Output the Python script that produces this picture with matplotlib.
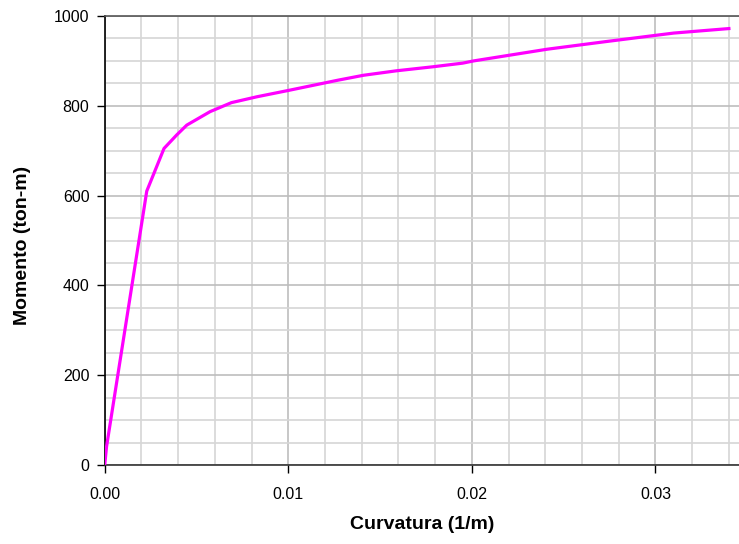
import numpy as np
import matplotlib.pyplot as plt
from matplotlib.ticker import MultipleLocator, FormatStrFormatter

plt.rcParams['font.family'] = ['Liberation Sans', 'DejaVu Sans']

# moment-curvature curve
curvatura = [0, 0.0001, 0.00229, 0.00323, 0.00392, 0.00447, 0.00574, 0.0069,
             0.00828, 0.0101, 0.0127, 0.0141, 0.0159, 0.0179, 0.0195, 0.0201,
             0.0221, 0.0241, 0.0273, 0.0310, 0.0340]
momento = [0, 41, 610, 705, 735, 757, 787, 807, 820, 835, 857, 868, 878, 887,
           895, 900, 913, 926, 943, 962, 972]

fig = plt.figure(figsize=(7.39, 5.44), dpi=100)
ax = fig.add_axes([0.1417, 0.1452, 0.8583, 0.8254])

ax.plot(curvatura, momento, color='#ff00ff', lw=2.3, zorder=3)

ax.set_xlim(0, 0.03455)
ax.set_ylim(0, 1000)
ax.xaxis.set_major_locator(MultipleLocator(0.01))
ax.xaxis.set_minor_locator(MultipleLocator(0.002))
ax.yaxis.set_major_locator(MultipleLocator(200))
ax.yaxis.set_minor_locator(MultipleLocator(50))
ax.xaxis.set_major_formatter(FormatStrFormatter('%.2f'))

ax.grid(which='major', color='#bdbdbd', lw=1.2)
ax.grid(which='minor', color='#d6d6d6', lw=1.2)
ax.set_axisbelow(True)
ax.tick_params(which='minor', length=0)
ax.tick_params(which='major', length=6, width=1, labelsize=11.5, color='black')
ax.tick_params(axis='x', pad=10)
ax.tick_params(axis='y', pad=5)

ax.spines['right'].set_visible(False)
ax.spines['top'].set_color('#555555')
ax.spines['left'].set_color('black')
ax.spines['bottom'].set_color('#333333')
for s in ax.spines.values():
    s.set_linewidth(1.2)

ax.set_xlabel('Curvatura (1/m)', fontsize=14, fontweight='bold', va='center')
ax.set_ylabel('Momento (ton-m)', fontsize=14, fontweight='bold', va='center')
ax.xaxis.set_label_coords(0.5, -0.1336)
ax.yaxis.set_label_coords(-0.1304, 0.49)

fig.savefig('out.png', dpi=100)
